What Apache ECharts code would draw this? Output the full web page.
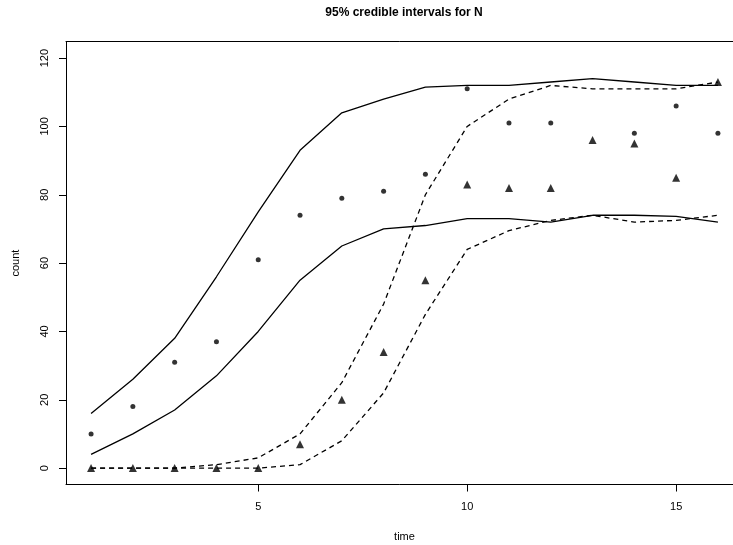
<!DOCTYPE html>
<html>
<head>
<meta charset="utf-8">
<script src="https://cdn.jsdelivr.net/npm/echarts@6/dist/echarts.min.js"></script>
<style>html,body{margin:0;padding:0;background:#fff;}#chart{width:733px;height:545px;}</style>
</head>
<body>
<div id="chart"></div>
<script>
var time = [1,2,3,4,5,6,7,8,9,10,11,12,13,14,15,16];
var upperSolid = [16,26,38,56,75,93,104,108,111.5,112,112,113,114,113,112,112];
var lowerSolid = [4,10,17,27,40,55,65,70,71,73,73,72,74,74,73.7,72];
var upperDashed = [0,0,0,1,3,10,25,48,80,100,108,112,111,111,111,113];
var lowerDashed = [0,0,0,0,0,1,8,22,45,64,69.5,72.5,74,72,72.5,74];
var circles = [10,18,31,37,61,74,79,81,86,111,101,101,null,98,106,98];
var triangles = [0,0,0,0,0,7,20,34,55,83,82,82,96,95,85,113];
var xTicks = [5,10,15];
var yTicks = [0,20,40,60,80,100,120];

function pairs(vals){ var out=[]; for(var i=0;i<time.length;i++){ if(vals[i]!==null) out.push([time[i], vals[i]]); } return out; }

var font = 'Liberation Sans, Arial, Helvetica, sans-serif';
var chart = echarts.init(document.getElementById('chart'), null, {renderer:'canvas'});
function lineSeries(vals, dashed){
  return {type:'line', data:pairs(vals), symbol:'none', silent:true,
    lineStyle:{color:'#000', width:1.3, type: dashed ? [5,4] : 'solid'}, z:2};
}
var xMin = 0.4, xMax = 16.6;
chart.setOption({
  animation:false,
  backgroundColor:'#fff',
  title:{text:'95% credible intervals for N', left:404, top:7, padding:0, textAlign:'center',
    textStyle:{fontFamily:font, fontSize:12, fontWeight:'bold', color:'#000'}},
  grid:{left:66, top:41.7, width:677, height:442.8, show:false, containLabel:false, outerBoundsMode:'none'},
  xAxis:[{type:'value', min:xMin, max:xMax, position:'bottom', name:'time', nameLocation:'middle', nameGap:47,
    nameTextStyle:{fontFamily:font, fontSize:11, color:'#000'},
    splitLine:{show:false}, axisLine:{show:true, onZero:false, lineStyle:{color:'#000', width:1}},
    axisTick:{show:true, inside:false, length:7, lineStyle:{color:'#000'}, customValues:xTicks},
    axisLabel:{show:true, margin:17, fontFamily:font, fontSize:11, color:'#000', customValues:xTicks}},
   {type:'value', min:xMin, max:xMax, position:'top',
    splitLine:{show:false}, axisLine:{show:true, onZero:false, lineStyle:{color:'#000', width:1}},
    axisTick:{show:false}, axisLabel:{show:false}}],
  yAxis:{type:'value', min:-4.8, max:124.8, name:'count', nameLocation:'middle', nameGap:45,
    nameTextStyle:{fontFamily:font, fontSize:11, color:'#000'},
    splitLine:{show:false}, axisLine:{show:true, onZero:false, lineStyle:{color:'#000', width:1}},
    axisTick:{show:true, inside:false, length:7, lineStyle:{color:'#000'}, customValues:yTicks},
    axisLabel:{show:true, margin:16, rotate:90, fontFamily:font, fontSize:11, color:'#000', customValues:yTicks}},
  series:[
    lineSeries(upperSolid,false),
    lineSeries(lowerSolid,false),
    lineSeries(upperDashed,true),
    lineSeries(lowerDashed,true),
    {type:'scatter', data:pairs(circles), symbol:'circle', symbolSize:5, itemStyle:{color:'#000'}, z:3},
    {type:'scatter', data:pairs(triangles), symbol:'triangle', symbolSize:8, itemStyle:{color:'#000'}, z:3}
  ]
});
</script>
</body>
</html>
